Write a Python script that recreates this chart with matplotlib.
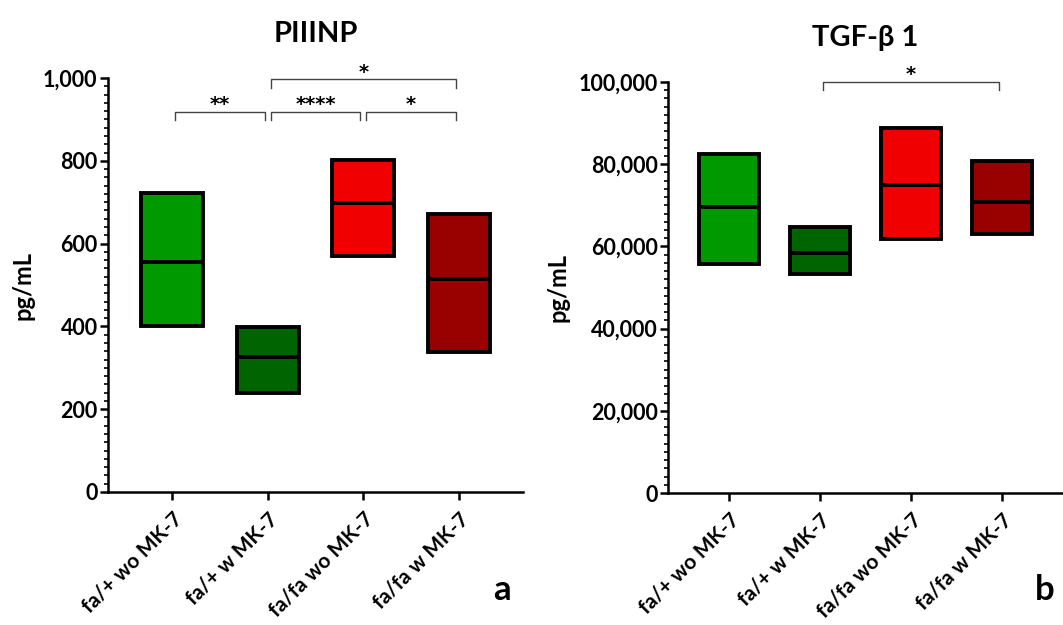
import matplotlib
matplotlib.use("Agg")
import matplotlib.pyplot as plt
from matplotlib.ticker import MultipleLocator, FuncFormatter

plt.rcParams['font.family'] = ['Lato', 'DejaVu Sans']
plt.rcParams['font.weight'] = 'bold'

categories = ["fa/+ wo MK-7", "fa/+ w MK-7", "fa/fa wo MK-7", "fa/fa w MK-7"]
colors = ["#009900", "#006400", "#f00000", "#990000"]

# PIIINP (pg/mL): min, max, median
piiinp_min = [402, 238, 571, 339]
piiinp_max = [723, 399, 802, 671]
piiinp_med = [556, 327, 699, 515]

# TGF-beta 1 (pg/mL)
tgf_min = [55800, 53200, 61700, 63100]
tgf_max = [82400, 64700, 88900, 80800]
tgf_med = [69600, 58400, 74900, 70800]

# significance brackets: (i, j), label, level
piiinp_sig_pairs = [(0, 1), (1, 2), (2, 3), (1, 3)]
piiinp_sig_labels = ["**", "****", "*", "*"]
piiinp_sig_levels = [919, 919, 919, 997]

tgf_sig_pairs = [(1, 3)]
tgf_sig_labels = ["*"]
tgf_sig_levels = [100000]

fig = plt.figure(figsize=(10.63, 6.25), dpi=100)
ax1 = fig.add_axes([0.1016, 0.2128, 0.3904, 0.6624])
ax2 = fig.add_axes([0.6284, 0.2112, 0.3716, 0.6576])

W = 0.65


def draw(ax, mins, maxs, meds, ymax, major, minor, title, pairs, labels, levels, drop, letter, letter_x):
    xs = list(range(len(categories)))
    heights = [mx - mn for mn, mx in zip(mins, maxs)]
    ax.bar(xs, heights, bottom=mins, width=W, color=colors, edgecolor="black",
           linewidth=2.8, zorder=3)
    ax.hlines(meds, [x - W / 2 for x in xs], [x + W / 2 for x in xs], colors="black",
              linewidth=2.8, zorder=4)
    ax.set_xlim(-0.67, 3.67)
    ax.set_ylim(0, ymax)
    ax.set_xticks(xs)
    ax.set_xticklabels(categories, rotation=45, ha="right", rotation_mode="anchor",
                       fontsize=15, fontweight="bold")
    ax.yaxis.set_major_locator(MultipleLocator(major))
    ax.yaxis.set_minor_locator(MultipleLocator(minor))
    ax.yaxis.set_major_formatter(FuncFormatter(lambda v, p: f"{int(v):,}"))
    for lab in ax.get_yticklabels():
        lab.set_fontweight("bold")
    ax.tick_params(axis="y", which="major", labelsize=15.5, length=6, width=1.8, pad=1.5)
    ax.tick_params(axis="y", which="minor", length=3, width=1.2)
    ax.tick_params(axis="x", which="major", length=6, width=1.8, pad=6)
    for s in ["top", "right"]:
        ax.spines[s].set_visible(False)
    for s in ["left", "bottom"]:
        ax.spines[s].set_linewidth(1.8)
    ax.set_ylabel("pg/mL", fontsize=17, fontweight="bold", labelpad=6)
    ax.set_title(title, fontsize=21, fontweight="bold", pad=26)
    for (i, j), lab, lev in zip(pairs, labels, levels):
        ax.plot([i + 0.03, i + 0.03, j - 0.03, j - 0.03], [lev - drop, lev, lev, lev - drop],
                color="#444444", linewidth=1.0, clip_on=False, zorder=5)
        ax.text((i + j) / 2, lev - drop * 0.3, lab, ha="center", va="bottom",
                fontsize=14, fontweight="bold", family="DejaVu Sans", clip_on=False)
    fig.text(letter_x, 0.03, letter, fontsize=25, fontweight="bold", ha="center", va="bottom")


draw(ax1, piiinp_min, piiinp_max, piiinp_med, 1000, 200, 20, "PIIINP",
     piiinp_sig_pairs, piiinp_sig_labels, piiinp_sig_levels, 20, "a", 0.472)
draw(ax2, tgf_min, tgf_max, tgf_med, 100000, 20000, 2000, "TGF-β 1",
     tgf_sig_pairs, tgf_sig_labels, tgf_sig_levels, 2000, "b", 0.983)

fig.savefig("out.png", dpi=100)
